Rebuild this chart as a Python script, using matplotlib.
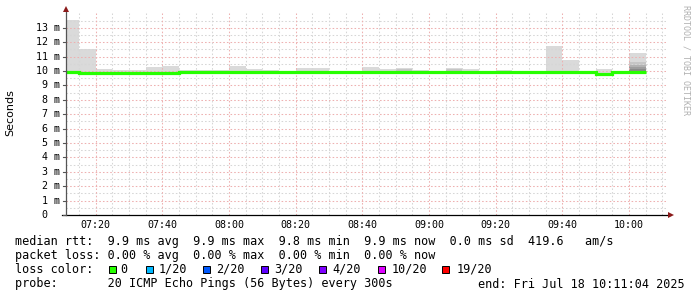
import matplotlib
matplotlib.use("Agg")
import matplotlib.pyplot as plt
import numpy as np

# --- figure geometry (pixels, figure is 697x297 at 100 dpi) ------------------
W, H, DPI = 697, 297, 100
AX_LEFT, AX_RIGHT, AX_BOTTOM, AX_TOP = 66, 666, 215, 13.4
MONO = "DejaVu Sans Mono"

# --- time window: minutes since midnight -------------------------------------
T_START = 7 * 60 + 11 + 4 / 60       # 07:11:04
T_END = T_START + 180                # 10:11:04
BIN_START = 7 * 60 + 10              # first 300 s step begins 07:10
BIN_MIN = 5

# --- data (ms), one value per 5 min step --------------------------------------
median_ms = [9.95, 9.83, 9.83, 9.83, 9.83, 9.83, 9.83,
             9.93, 9.93, 9.93, 9.93, 9.93, 9.93, 9.93, 9.93, 9.93, 9.93, 9.93,
             9.93, 9.93, 9.93, 9.93, 9.93, 9.93, 9.93, 9.93, 9.93, 9.93, 9.93,
             9.95, 9.95, 9.93, 9.80, 9.93, 9.96]
smoke_max_ms = [13.55, 11.50, 10.15, 10.05, 10.05, 10.30, 10.37,
                10.07, 10.05, 10.05, 10.37, 10.14, 10.07, 10.00, 10.22, 10.22,
                10.00, 10.00, 10.26, 10.12, 10.19, 10.10, 10.00, 10.23, 10.14,
                10.00, 10.07, 10.02, 10.00, 11.74, 10.76, 10.00, 10.14, 10.00,
                11.27]
# darker inner smoke bands (bin index -> band tops, outer to inner)
smoke_inner_ms = {20: [10.12], 23: [10.12], 34: [10.62, 10.45, 10.30, 10.15]}

y_labels = ["13 m", "12 m", "11 m", "10 m", " 9 m", " 8 m", " 7 m", " 6 m",
            " 5 m", " 4 m", " 3 m", " 2 m", " 1 m", " 0"]
y_label_vals = [13, 12, 11, 10, 9, 8, 7, 6, 5, 4, 3, 2, 1, 0]
x_labels = ["07:20", "07:40", "08:00", "08:20", "08:40", "09:00", "09:20",
            "09:40", "10:00"]

loss_labels = ["0", "1/20", "2/20", "3/20", "4/20", "10/20", "19/20"]
loss_colors = ["#26ff00", "#00b8ff", "#0059ff", "#5e00ff", "#7e00ff",
               "#dd00ff", "#ff0000"]

SMOKE = "#dadada"
SMOKE_INNER = ["#c6c6c6", "#b2b2b2", "#9e9e9e", "#8a8a8a"]
GRID_MINOR = "#d6d6d6"
GRID_MAJOR = "#eeb0b0"
ARROW = "#8b1a1a"


def hhmm(s):
    h, m = s.split(":")
    return int(h) * 60 + int(m)


def fx(px):
    return px / W


def fy(py):
    return 1 - py / H


fig = plt.figure(figsize=(W / DPI, H / DPI), dpi=DPI, facecolor="white")
ax = fig.add_axes([fx(AX_LEFT), fy(AX_BOTTOM), (AX_RIGHT - AX_LEFT) / W,
                   (AX_BOTTOM - AX_TOP) / H])
ax.set_xlim(T_START, T_END)
ax.set_ylim(0, 14)
ax.axis("off")

edges = BIN_START + BIN_MIN * np.arange(len(median_ms) + 1)
med = np.array(median_ms)

# smoke
ax.stairs(smoke_max_ms, edges, baseline=med, fill=True, color=SMOKE,
          linewidth=0, zorder=1)
for i, tops in smoke_inner_ms.items():
    for k, top in enumerate(tops):
        ax.fill_between([edges[i], edges[i + 1]], median_ms[i], top,
                        color=SMOKE_INNER[k], linewidth=0, zorder=1)

# grid
dots = (0, (1.5, 2))
for v in np.arange(0.5, 14, 0.5):
    major = float(v).is_integer()
    ax.axhline(v, color=GRID_MAJOR if major else GRID_MINOR, lw=0.75,
               ls=dots, zorder=2, xmax=(669 - AX_LEFT) / (AX_RIGHT - AX_LEFT))
for t in range(7 * 60 + 15, 10 * 60 + 15, 5):
    if t <= T_START or t >= T_END:
        continue
    ax.axvline(t, color=GRID_MAJOR if t % 20 == 0 else GRID_MINOR, lw=0.75,
               ls=dots, zorder=2, ymax=1.0)

# median rtt line
ax.stairs(median_ms, edges, baseline=None, color=loss_colors[0], lw=2.3,
          zorder=3)

# axes lines + arrows
px_per_min = (AX_RIGHT - AX_LEFT) / (T_END - T_START)
px_per_ms = (AX_BOTTOM - AX_TOP) / 14
ax.plot([T_START - 4 / px_per_min, T_START + (670 - AX_LEFT) / px_per_min],
        [0, 0], color="black", lw=0.9, clip_on=False, zorder=4)
ax.plot([T_START, T_START], [0, 14 + 3 / px_per_ms], color="#555555", lw=0.9,
        clip_on=False, zorder=4)
ax.plot([T_START], [14 + 4.5 / px_per_ms], marker="^", ms=4, color=ARROW,
        mew=0, clip_on=False, zorder=5)
ax.plot([T_START + (671 - AX_LEFT) / px_per_min], [0], marker=">", ms=4,
        color=ARROW, mew=0, clip_on=False, zorder=5)

# y tick labels and ticks
for lab, v in zip(y_labels, y_label_vals):
    ax.text((36 - AX_LEFT) / (AX_RIGHT - AX_LEFT), v, lab,
            transform=ax.get_yaxis_transform(), ha="left", va="center",
            family=MONO, fontsize=7.2, color="black")
    ax.plot([T_START - 3 / px_per_min, T_START], [v, v], color="#555555",
            lw=0.8, clip_on=False, zorder=4)

# x tick labels
for lab in x_labels:
    ax.text(hhmm(lab), -10 / (AX_BOTTOM - AX_TOP), lab,
            transform=ax.get_xaxis_transform(), ha="center", va="center",
            family=MONO, fontsize=7.2, color="black")

fig.text(fx(10), fy(113), "Seconds", rotation=90, ha="center", va="center",
         fontsize=8, family="DejaVu Sans")
fig.text(fx(686), fy(60), "RRDTOOL / TOBI OETIKER", rotation=270,
         ha="center", va="center", fontsize=6, family=MONO, color="#b0b0b0")

# legend block
fs = 8.5
fig.text(fx(15), fy(241), "median rtt:  9.9 ms avg  9.9 ms max  9.8 ms min"
         "  9.9 ms now  0.0 ms sd  419.6   am/s",
         family=MONO, fontsize=fs, va="center", ha="left")
fig.text(fx(15), fy(255.5), "packet loss: 0.00 % avg  0.00 % max  0.00 % min"
         "  0.00 % now", family=MONO, fontsize=fs, va="center", ha="left")
fig.text(fx(15), fy(269.3), "loss color:", family=MONO, fontsize=fs,
         va="center", ha="left")
sq_x = [109, 146, 203, 261, 319, 378, 442]
lab_x = [120, 159, 216, 274, 332, 392, 457]
for lab, col, sx, lx in zip(loss_labels, loss_colors, sq_x, lab_x):
    fig.patches.append(plt.Rectangle((fx(sx), fy(272.7)), 7 / W, 7 / H,
                                     transform=fig.transFigure,
                                     facecolor=col, edgecolor="black",
                                     lw=0.7))
    fig.text(fx(lx), fy(269.3), lab, family=MONO, fontsize=fs, va="center",
             ha="left")
fig.text(fx(15), fy(284), "probe:       20 ICMP Echo Pings (56 Bytes) every 300s",
         family=MONO, fontsize=fs, va="center", ha="left")
fig.text(fx(478), fy(284), "end: Fri Jul 18 10:11:04 2025", family=MONO,
         fontsize=fs, va="center", ha="left")

fig.savefig("out.png", dpi=DPI, facecolor="white")
